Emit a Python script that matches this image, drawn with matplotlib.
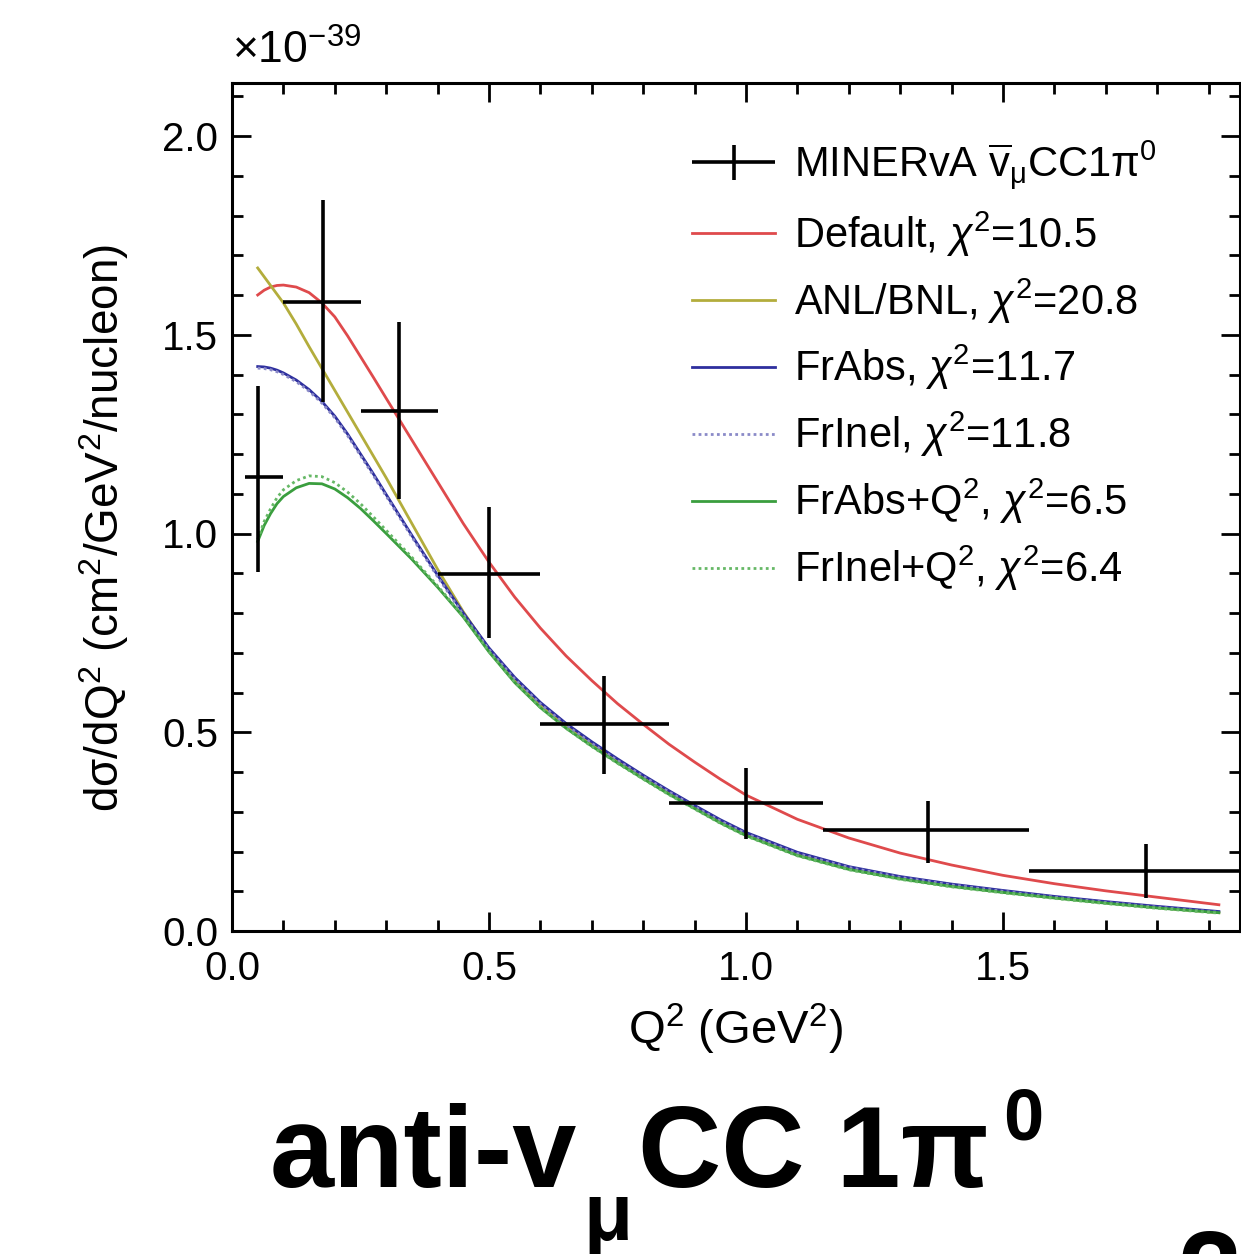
import numpy as np
import matplotlib
matplotlib.use("Agg")
import matplotlib.pyplot as plt
from matplotlib.ticker import MultipleLocator
from matplotlib.container import ErrorbarContainer
from matplotlib.legend_handler import HandlerErrorbar

plt.rcParams['font.family'] = ['Liberation Sans', 'DejaVu Sans']
plt.rcParams['mathtext.fontset'] = 'custom'
plt.rcParams['mathtext.rm'] = 'Liberation Sans'
plt.rcParams['mathtext.it'] = 'Liberation Sans:italic'
plt.rcParams['mathtext.bf'] = 'Liberation Sans:bold'

# MINERvA anti-nu_mu CC 1pi0 data (units of 1e-39 cm2/GeV2/nucleon)
data_x = [0.05, 0.177, 0.325, 0.50, 0.724, 1.00, 1.354, 1.778]
data_xlo = [0.025, 0.10, 0.25, 0.40, 0.60, 0.85, 1.15, 1.55]
data_xhi = [0.10, 0.25, 0.40, 0.60, 0.85, 1.15, 1.55, 2.00]
data_y = [1.141, 1.583, 1.308, 0.899, 0.520, 0.323, 0.255, 0.152]
data_ylo = [0.904, 1.331, 1.086, 0.737, 0.396, 0.232, 0.172, 0.083]
data_yhi = [1.371, 1.838, 1.533, 1.066, 0.641, 0.409, 0.328, 0.220]

# model curves
q2 = [0.05, 0.0625, 0.075, 0.0875, 0.10, 0.125, 0.15, 0.175, 0.20, 0.225, 0.25, 0.275,
      0.30, 0.35, 0.40, 0.45, 0.50, 0.55, 0.60, 0.65, 0.70, 0.75, 0.80, 0.85, 0.90, 0.95,
      1.00, 1.10, 1.20, 1.30, 1.40, 1.50, 1.60, 1.70, 1.80, 1.92]
default = [1.600, 1.612, 1.620, 1.624, 1.625, 1.620, 1.606, 1.580, 1.545, 1.497, 1.445, 1.393,
           1.340, 1.235, 1.130, 1.025, 0.928, 0.840, 0.762, 0.692, 0.630, 0.572, 0.520, 0.470,
           0.425, 0.382, 0.342, 0.281, 0.234, 0.196, 0.166, 0.140, 0.119, 0.101, 0.085, 0.066]
anl_bnl = [1.668, 1.646, 1.624, 1.602, 1.580, 1.527, 1.470, 1.415, 1.360, 1.305, 1.250, 1.195,
           1.140, 1.025, 0.910, 0.803, 0.708, 0.632, 0.570, 0.518, 0.472, 0.429, 0.388, 0.349,
           0.312, 0.276, 0.244, 0.194, 0.158, 0.133, 0.114, 0.098, 0.084, 0.071, 0.059, 0.046]
frabs = [1.420, 1.419, 1.416, 1.411, 1.404, 1.386, 1.362, 1.332, 1.295, 1.250, 1.200, 1.150,
         1.098, 0.995, 0.895, 0.800, 0.712, 0.638, 0.575, 0.522, 0.476, 0.433, 0.392, 0.353,
         0.316, 0.280, 0.248, 0.198, 0.162, 0.137, 0.118, 0.102, 0.087, 0.074, 0.062, 0.049]
frinel = [1.416, 1.415, 1.412, 1.407, 1.400, 1.382, 1.358, 1.328, 1.291, 1.246, 1.196, 1.146,
          1.094, 0.991, 0.891, 0.796, 0.708, 0.634, 0.571, 0.518, 0.472, 0.429, 0.389, 0.350,
          0.313, 0.277, 0.245, 0.195, 0.160, 0.135, 0.116, 0.100, 0.085, 0.072, 0.060, 0.047]
frabs_q2 = [0.980, 1.020, 1.050, 1.075, 1.093, 1.115, 1.126, 1.125, 1.112, 1.090, 1.063, 1.032,
            1.000, 0.935, 0.865, 0.790, 0.702, 0.625, 0.562, 0.510, 0.465, 0.423, 0.383, 0.344,
            0.308, 0.272, 0.240, 0.190, 0.155, 0.131, 0.112, 0.097, 0.083, 0.070, 0.058, 0.046]
frinel_q2 = [0.985, 1.030, 1.062, 1.090, 1.110, 1.133, 1.145, 1.143, 1.128, 1.104, 1.075, 1.042,
             1.008, 0.940, 0.868, 0.792, 0.703, 0.626, 0.562, 0.510, 0.464, 0.422, 0.382, 0.343,
             0.307, 0.271, 0.239, 0.189, 0.154, 0.130, 0.111, 0.096, 0.082, 0.069, 0.057, 0.045]

labels = [r'MINERvA $\overline{\mathrm{v}}_{\mathrm{\mu}}$CC1$\mathrm{\pi}^0$',
          r'Default, $\chi^2$=10.5',
          r'ANL/BNL, $\chi^2$=20.8',
          r'FrAbs, $\chi^2$=11.7',
          r'FrInel, $\chi^2$=11.8',
          r'FrAbs+Q$^2$, $\chi^2$=6.5',
          r'FrInel+Q$^2$, $\chi^2$=6.4']

fig = plt.figure(figsize=(12.41, 12.54), dpi=100)
ax = fig.add_axes([232/1241, 1-931/1254, 1008/1241, 848/1254])

lw = 2.0
ax.plot(q2, default, color='#df4a4c', lw=lw, label=labels[1])
ax.plot(q2, anl_bnl, color='#b3ad3c', lw=lw, label=labels[2])
ax.plot(q2, frabs, color='#2e2f9e', lw=lw, label=labels[3])
ax.plot(q2, frinel, color='#8a8ac8', lw=lw, ls=(0, (1, 1.2)), label=labels[4])
ax.plot(q2, frabs_q2, color='#3a9e3e', lw=lw, label=labels[5])
ax.plot(q2, frinel_q2, color='#66b866', lw=lw, ls=(0, (1, 1.2)), label=labels[6])

dx = np.array(data_x)
dy = np.array(data_y)
xerr = [dx - np.array(data_xlo), np.array(data_xhi) - dx]
yerr = [dy - np.array(data_ylo), np.array(data_yhi) - dy]
ax.errorbar(dx, dy, xerr=xerr, yerr=yerr, fmt='none', ecolor='black',
            elinewidth=2.6, capsize=0, label=labels[0], zorder=5)

ax.set_xlim(0, 1008/514)
ax.set_ylim(0, 848/397.5)
ax.xaxis.set_major_locator(MultipleLocator(0.5))
ax.xaxis.set_minor_locator(MultipleLocator(0.1))
ax.yaxis.set_major_locator(MultipleLocator(0.5))
ax.yaxis.set_minor_locator(MultipleLocator(0.1))
ax.tick_params(which='both', direction='in', top=True, right=True, width=2.0, labelsize=29)
ax.tick_params(which='major', length=14, pad=10)
ax.tick_params(which='minor', length=8)
ax.xaxis.set_tick_params(pad=14)
for s in ax.spines.values():
    s.set_linewidth(2.2)

ax.set_xlabel(r'Q$^2$ (GeV$^2$)', fontsize=34, labelpad=10)
ax.set_ylabel(r'd$\mathrm{\sigma}$/dQ$^2$ (cm$^2$/GeV$^2$/nucleon)', fontsize=33)
ax.yaxis.set_label_coords(-0.100, (931-528)/848)
ax.text(0.0, 1.012, r'$\times$10$^{-39}$', transform=ax.transAxes, fontsize=32,
        ha='left', va='bottom')

handles, labs = ax.get_legend_handles_labels()
order = [labs.index(l) for l in labels]
ax.legend([handles[i] for i in order], [labs[i] for i in order],
          loc='upper left', bbox_to_anchor=((692-232)/1008, (931-138)/848),
          frameon=False, fontsize=30, handlelength=2.0, handletextpad=0.45,
          labelspacing=0.42, borderpad=0, borderaxespad=0,
          handler_map={ErrorbarContainer: HandlerErrorbar(xerr_size=1.0, yerr_size=0.42)})

# big caption below the chart
big = dict(fontsize=83, fontweight='bold', va='baseline', ha='left')
fig.text(270/1241, 1-1187/1254, 'anti-v', **big)
fig.text(583/1241, 1-1240/1254, 'μ', fontsize=58, fontweight='bold', va='baseline', ha='left')
fig.text(638/1241, 1-1187/1254, 'CC 1π', **big)
fig.text(1003/1241, 1-1140/1254, '0', fontsize=52, fontweight='bold', va='baseline', ha='left')
fig.text(1178/1241, 1-1312/1254, '2', **big)

fig.savefig('out.png', dpi=100)
